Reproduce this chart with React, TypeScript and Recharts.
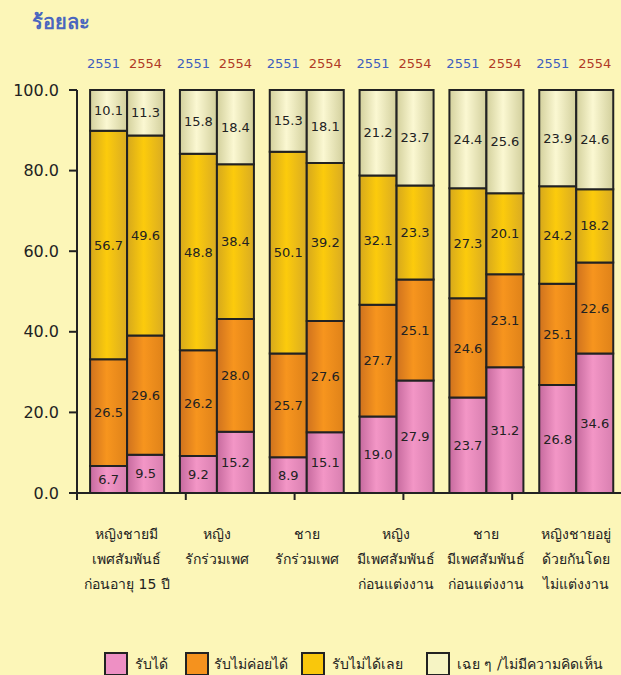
import React from 'react'
import { BarChart, Bar, XAxis, YAxis, LabelList } from 'recharts'

const categories = [
  ['หญิงชายมี', 'เพศสัมพันธ์', 'ก่อนอายุ 15 ปี'],
  ['หญิง', 'รักร่วมเพศ'],
  ['ชาย', 'รักร่วมเพศ'],
  ['หญิง', 'มีเพศสัมพันธ์', 'ก่อนแต่งงาน'],
  ['ชาย', 'มีเพศสัมพันธ์', 'ก่อนแต่งงาน'],
  ['หญิงชายอยู่', 'ด้วยกันโดย', 'ไม่แต่งงาน'],
]
const years = ['2551', '2554']
const seriesNames = ['รับได้', 'รับไม่ค่อยได้', 'รับไม่ได้เลย', 'เฉย ๆ /ไม่มีความคิดเห็น']

// 2551
const accept51 = [6.7, 9.2, 8.9, 19.0, 23.7, 26.8]
const hardly51 = [26.5, 26.2, 25.7, 27.7, 24.6, 25.1]
const never51 = [56.7, 48.8, 50.1, 32.1, 27.3, 24.2]
const neutral51 = [10.1, 15.8, 15.3, 21.2, 24.4, 23.9]
// 2554
const accept54 = [9.5, 15.2, 15.1, 27.9, 31.2, 34.6]
const hardly54 = [29.6, 28.0, 27.6, 25.1, 23.1, 22.6]
const never54 = [49.6, 38.4, 39.2, 23.3, 20.1, 18.2]
const neutral54 = [11.3, 18.4, 18.1, 23.7, 25.6, 24.6]

const yTicks = [0, 20, 40, 60, 80, 100]
const halfTicks = [0, 1, 2, 3, 4, 5, 6, 7, 8, 9, 10, 11, 12]

const data = categories.map((c, i) => ({
  name: c.join(' '),
  a1: accept51[i], a2: hardly51[i], a3: never51[i], a4: neutral51[i],
  b1: accept54[i], b2: hardly54[i], b3: never54[i], b4: neutral54[i],
}))

const FONT = "Tahoma, 'DejaVu Sans', 'Noto Sans', sans-serif"
const fills = ['url(#gPink)', 'url(#gOrange)', 'url(#gYellow)', 'url(#gCream)']
const swatch = ['#ee90c4', '#f5921e', '#f9c70c', '#f6f4c4']

const CatTick = (props: any) => {
  const { x, y, index } = props
  const lines = categories[index] || []
  return (
    <text x={x} y={y + 28} textAnchor="middle" fontSize={14} fill="#222" fontFamily={FONT}>
      {lines.map((l, i) => (
        <tspan key={i} x={x} dy={i === 0 ? 0 : 25}>{l}</tspan>
      ))}
    </text>
  )
}

const yearLabel = (year: string, color: string, shift: number) => (props: any) => {
  const { x, width, index } = props
  return (
    <text key={`${year}-${index}`} x={x + width / 2 + shift} y={68} textAnchor="middle" fontSize={13} fill={color} fontFamily={FONT}>
      {year}
    </text>
  )
}

const grad = (id: string, l: string, m: string, r: string) => (
  <linearGradient id={id} x1="0" y1="0" x2="1" y2="0">
    <stop offset="0%" stopColor={l} />
    <stop offset="45%" stopColor={m} />
    <stop offset="100%" stopColor={r} />
  </linearGradient>
)

export default function App() {
  const labelStyle = { fontSize: 13, fill: '#222', fontFamily: FONT }
  const bars = (prefix: string, stack: string) =>
    [1, 2, 3, 4].map((k) => (
      <Bar
        key={prefix + k}
        xAxisId="cat"
        dataKey={prefix + k}
        stackId={stack}
        fill={fills[k - 1]}
        stroke="#222"
        strokeWidth={2}
        isAnimationActive={false}
      >
        <LabelList dataKey={prefix + k} position="center" formatter={(v: any) => Number(v).toFixed(1)} style={labelStyle} />
        {k === 4 && (
          <LabelList
            dataKey={prefix + k}
            content={prefix === 'a' ? yearLabel(years[0], '#3f5fbf', -5) : yearLabel(years[1], '#b03a26', 0)}
          />
        )}
      </Bar>
    ))

  return (
    <div style={{ position: 'absolute', left: 0, top: 0, width: 621, height: 675, background: '#fcf6b8', fontFamily: FONT, overflow: 'hidden' }}>
      <div style={{ position: 'absolute', left: 32, top: 6, fontSize: 20, fontWeight: 'bold', color: '#4a66bf' }}>ร้อยละ</div>
      <BarChart
        width={621}
        height={675}
        data={data}
        margin={{ top: 90, right: 0, bottom: 82, left: 0 }}
        barCategoryGap="9%"
        barGap={0}
      >
        <defs>
          {grad('gPink', '#c66a9e', '#f396c6', '#d87fb0')}
          {grad('gOrange', '#cf721e', '#f7951e', '#df8219')}
          {grad('gYellow', '#d6a81c', '#fccb0c', '#d9ab22')}
          {grad('gCream', '#d3d09c', '#fbf8d2', '#d2cf9c')}
        </defs>
        <XAxis
          xAxisId="a"
          type="number"
          domain={[0, 12]}
          ticks={halfTicks}
          tickFormatter={() => ''}
          tickSize={7}
          tickLine={{ stroke: '#222', strokeWidth: 2 }}
          axisLine={{ stroke: '#222', strokeWidth: 2 }}
          height={10}
        />
        <XAxis
          xAxisId="cat"
          dataKey="name"
          height={90}
          padding={{ left: 5, right: 0 }}
          tick={<CatTick />}
          tickLine={false}
          axisLine={false}
          interval={0}
        />
        <YAxis
          width={77}
          domain={[0, 100]}
          ticks={yTicks}
          tickFormatter={(v: number) => v.toFixed(1)}
          tick={{ fontSize: 16, fill: '#222', fontFamily: FONT }}
          tickSize={8}
          tickMargin={10}
          tickLine={{ stroke: '#222', strokeWidth: 2 }}
          axisLine={{ stroke: '#222', strokeWidth: 2 }}
        />
        {bars('a', 'y2551')}
        {bars('b', 'y2554')}
      </BarChart>
      <div style={{ position: 'absolute', left: 104, top: 652, display: 'flex', alignItems: 'center', fontSize: 14, color: '#222' }}>
        {seriesNames.map((n, i) => (
          <div key={n} style={{ display: 'flex', alignItems: 'center', marginRight: [17, 13, 23, 0][i] }}>
            <div style={{ width: 20, height: 20, border: '2px solid #222', background: swatch[i], marginRight: [7, 5, 7, 7][i] }} />
            <span>{n}</span>
          </div>
        ))}
      </div>
    </div>
  )
}
